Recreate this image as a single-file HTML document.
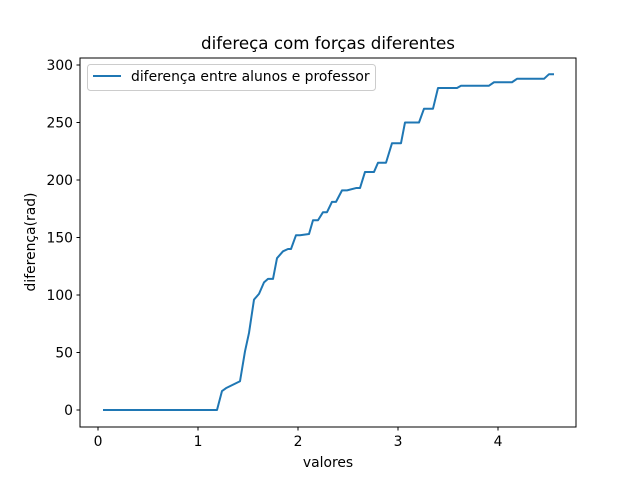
<!DOCTYPE html>
<html><head><meta charset="utf-8"><style>
body{margin:0;background:#fff;}
svg{display:block;font-family:"DejaVu Sans","Liberation Sans",sans-serif;}
</style></head><body>
<svg id="chart" width="640" height="480"></svg>
<script>
const xVals=[0.05,1.19,1.24,1.28,1.42,1.47,1.51,1.56,1.61,1.66,1.70,1.75,1.79,1.85,1.90,1.93,1.98,2.02,2.11,2.15,2.20,2.25,2.29,2.34,2.38,2.44,2.49,2.58,2.62,2.67,2.76,2.80,2.88,2.94,3.03,3.07,3.21,3.26,3.35,3.40,3.59,3.63,3.91,3.96,4.14,4.19,4.46,4.51,4.56];
const yVals=[0,0,16.5,19,25,51,67,96,101,111,114,114,132,138,140,140,152,152,153,165,165,172,172,181,181,191,191,193,193,207,207,215,215,232,232,250,250,262,262,280,280,282,282,285,285,288,288,292,292];
const xTicks=[0,1,2,3,4];
const yTicks=[0,50,100,150,200,250,300];
const NS='http://www.w3.org/2000/svg';
const svg=document.getElementById('chart');
const L=80,R=576,T=58,B=427;
const xs=v=>98+v*100;
const ys=v=>410-v*1.15;
function mk(tag,attrs,text){const e=document.createElementNS(NS,tag);for(const k in attrs)e.setAttribute(k,attrs[k]);if(text!==undefined)e.textContent=text;svg.appendChild(e);return e;}
let e;
e=mk('rect',{x:L,y:T,width:R-L,height:B-T,fill:'none',stroke:'#000','stroke-width':1});


xTicks.forEach(t=>{
  e=mk('line',{x1:xs(t),x2:xs(t),y1:B,y2:B+3.5,stroke:'#000'});
  
  
  e=mk('text',{x:xs(t),y:B+19,'font-size':13.9,'text-anchor':'middle'},String(t));
  
  
});
yTicks.forEach(t=>{
  e=mk('line',{x1:L-3.5,x2:L,y1:ys(t),y2:ys(t),stroke:'#000'});
  
  
  e=mk('text',{x:L-7,y:ys(t)+5,'font-size':13.9,'text-anchor':'end'},String(t));
  
  
});
e=mk('polyline',{points:xVals.map((x,i)=>xs(x)+','+ys(yVals[i])).join(' '),fill:'none',stroke:'#1f77b4','stroke-width':2,'stroke-linejoin':'round'});


e=mk('text',{x:328,y:49,'font-size':16.7,'text-anchor':'middle'},'difereça com forças diferentes');


e=mk('text',{x:328,y:467,'font-size':13.9,'text-anchor':'middle'},'valores');


e=mk('text',{x:35,y:242,'font-size':13.9,'text-anchor':'middle',transform:'rotate(-90 35 242)'},'diferença(rad)');


e=mk('rect',{x:87.5,y:64.5,width:288,height:26,rx:3,fill:'#fff',stroke:'#ccc'});


e=mk('line',{x1:93,x2:121,y1:76,y2:76,stroke:'#1f77b4','stroke-width':2});


e=mk('text',{x:131,y:81,'font-size':13.9},'diferença entre alunos e professor');


</script>
</body></html>
